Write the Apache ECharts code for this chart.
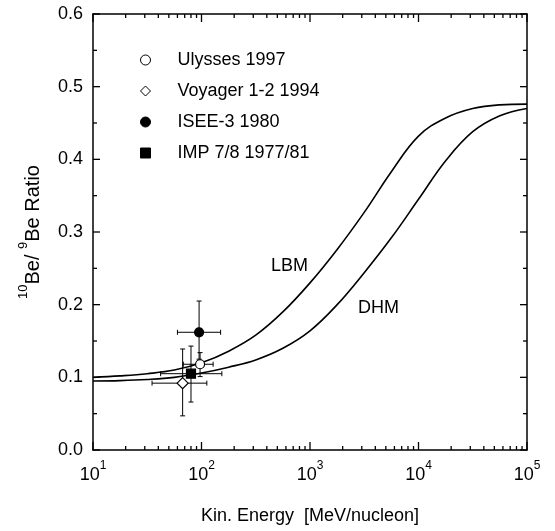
<!DOCTYPE html>
<html>
<head>
<meta charset="utf-8">
<script src="https://cdn.jsdelivr.net/npm/echarts@6/dist/echarts.min.js"></script>
<style>html,body{margin:0;padding:0;background:#fff}#c{width:555px;height:531px}</style>
</head>
<body>
<div id="c"></div>
<script>
// ---- data ----
const energyGrid = [10, 17.8, 31.6, 56.2, 100, 178, 316, 562, 1000, 1780, 3160, 5620, 10000, 17800, 31600, 56200, 100000];
const lbmRatio = [0.100, 0.102, 0.105, 0.110, 0.120, 0.136, 0.158, 0.190, 0.230, 0.276, 0.327, 0.383, 0.432, 0.457, 0.470, 0.475, 0.476];
const dhmRatio = [0.095, 0.0955, 0.097, 0.100, 0.106, 0.114, 0.124, 0.140, 0.164, 0.200, 0.244, 0.292, 0.345, 0.398, 0.438, 0.460, 0.470];

const seriesNames = ['Ulysses 1997', 'Voyager 1-2 1994', 'ISEE-3 1980', 'IMP 7/8 1977/81'];
const pointEnergy = [97, 67, 95, 80];
const pointRatio = [0.118, 0.092, 0.162, 0.105];
const energyLow = [68, 35, 60, 42];
const energyHigh = [128, 112, 150, 154];
const ratioLow = [0.101, 0.047, 0.125, 0.066];
const ratioHigh = [0.134, 0.139, 0.205, 0.143];

const xTickExponents = [1, 2, 3, 4, 5];
const majorEnergy = [10, 100, 1000, 10000, 100000];
const minorEnergy = [20,30,40,50,60,70,80,90,200,300,400,500,600,700,800,900,2000,3000,4000,5000,6000,7000,8000,9000,20000,30000,40000,50000,60000,70000,80000,90000];
const yTicks = ['0.0', '0.1', '0.2', '0.3', '0.4', '0.5', '0.6'];
const yMajor = [0, 0.1, 0.2, 0.3, 0.4, 0.5, 0.6];
const yMinor = [0.05, 0.15, 0.25, 0.35, 0.45, 0.55];

// ---- chart ----
const chart = echarts.init(document.getElementById('c'), null, {renderer: 'canvas'});
const FONT = 'Liberation Sans, Arial, sans-serif';
const symbols = [
  {symbol: 'circle', color: '#fff', border: '#000', size: 9},
  {symbol: 'diamond', color: '#fff', border: '#000', size: 11},
  {symbol: 'circle', color: '#000', border: '#000', size: 9},
  {symbol: 'rect', color: '#000', border: '#000', size: 9}
];

const errData = pointEnergy.map((e, i) => [e, pointRatio[i], energyLow[i], energyHigh[i], ratioLow[i], ratioHigh[i]]);

function errRender(params, api) {
  const x = api.value(0), y = api.value(1);
  const c = api.coord([x, y]);
  const l = api.coord([api.value(2), y]);
  const r = api.coord([api.value(3), y]);
  const b = api.coord([x, api.value(4)]);
  const t = api.coord([x, api.value(5)]);
  const cap = 2.5;
  const st = {stroke: '#000', lineWidth: 1};
  const line = (x1, y1, x2, y2) => ({type: 'line', shape: {x1, y1, x2, y2}, style: st});
  return {type: 'group', children: [
    line(l[0], c[1], r[0], c[1]),
    line(l[0], c[1] - cap, l[0], c[1] + cap),
    line(r[0], c[1] - cap, r[0], c[1] + cap),
    line(c[0], b[1], c[0], t[1]),
    line(c[0] - cap, b[1], c[0] + cap, b[1]),
    line(c[0] - cap, t[1], c[0] + cap, t[1])
  ]};
}

// one item that draws all frame ticks (inside) through the axis scales
function tickRender(params, api) {
  const st = {stroke: '#000', lineWidth: 1.3};
  const kids = [];
  const addX = (v, len) => {
    const b = api.coord([v, 0]);
    const t = api.coord([v, 0.6]);
    kids.push({type: 'line', shape: {x1: b[0], y1: b[1], x2: b[0], y2: b[1] - len}, style: st});
    kids.push({type: 'line', shape: {x1: t[0], y1: t[1], x2: t[0], y2: t[1] + len}, style: st});
  };
  const addY = (v, len) => {
    const l = api.coord([10, v]);
    const r = api.coord([100000, v]);
    kids.push({type: 'line', shape: {x1: l[0], y1: l[1], x2: l[0] + len, y2: l[1]}, style: st});
    kids.push({type: 'line', shape: {x1: r[0], y1: r[1], x2: r[0] - len, y2: r[1]}, style: st});
  };
  majorEnergy.forEach(v => addX(v, 8));
  minorEnergy.forEach(v => addX(v, 4));
  yMajor.forEach(v => addY(v, 7));
  yMinor.forEach(v => addY(v, 4));
  return {type: 'group', children: kids};
}

const xLabelFmt = v => {
  const e = Math.round(Math.log10(v));
  return xTickExponents.includes(e) ? '{b|10}{s|' + e + '}' : '';
};

const supRich = {
  b: {fontFamily: FONT, fontSize: 18, color: '#000', lineHeight: 24, verticalAlign: 'bottom'},
  s: {fontFamily: FONT, fontSize: 12, color: '#000', lineHeight: 12, verticalAlign: 'top'}
};

const option = {
  animation: false,
  backgroundColor: '#fff',
  textStyle: {fontFamily: FONT},
  grid: {left: 93, right: 28, top: 14, bottom: 81, containLabel: false},
  legend: {
    orient: 'vertical', left: 135, top: 46,
    itemWidth: 10, itemHeight: 10, itemGap: 13,
    textStyle: {fontFamily: FONT, fontSize: 18, color: '#000', padding: [0, 0, 0, 22]},
    data: seriesNames.map((n, i) => ({name: n, itemStyle: {color: symbols[i].color, borderColor: symbols[i].border, borderWidth: 1}}))
  },
  xAxis: [{
    type: 'log', logBase: 10, min: 10, max: 100000,
    name: 'Kin. Energy  [MeV/nucleon]', nameLocation: 'middle', nameGap: 57,
    nameTextStyle: {fontFamily: FONT, fontSize: 18, color: '#000'},
    axisLine: {show: true, onZero: false, lineStyle: {color: '#000', width: 1.5}},
    axisTick: {show: false},
    splitLine: {show: false},
    axisLabel: {margin: 10, formatter: xLabelFmt, rich: supRich}
  }, {
    type: 'log', logBase: 10, min: 10, max: 100000, position: 'top',
    axisLine: {show: true, onZero: false, lineStyle: {color: '#000', width: 1.5}},
    axisTick: {show: false}, axisLabel: {show: false}, splitLine: {show: false}
  }],
  yAxis: [{
    type: 'value', min: 0, max: 0.6, interval: 0.1,
    name: '{s|10}{b|Be/ }{s|9}{b|Be Ratio}', nameLocation: 'middle', nameGap: 50, nameRotate: 90,
    nameTextStyle: {fontFamily: FONT, fontSize: 20, color: '#000', rich: {
      b: {fontFamily: FONT, fontSize: 20, color: '#000', lineHeight: 26, verticalAlign: 'bottom'},
      s: {fontFamily: FONT, fontSize: 13, color: '#000', lineHeight: 13, verticalAlign: 'top'}
    }},
    axisLine: {show: true, onZero: false, lineStyle: {color: '#000', width: 1.5}},
    axisTick: {show: false}, minorTick: {show: false},
    splitLine: {show: false}, minorSplitLine: {show: false},
    axisLabel: {margin: 10, fontFamily: FONT, fontSize: 18, color: '#000', formatter: (v) => yTicks[Math.round(v * 10)]}
  }, {
    type: 'value', min: 0, max: 0.6, interval: 0.1, position: 'right',
    axisLine: {show: true, onZero: false, lineStyle: {color: '#000', width: 1.5}},
    axisTick: {show: false}, splitLine: {show: false}, axisLabel: {show: false}
  }],
  graphic: [
    {type: 'text', left: 271, top: 257, style: {text: 'LBM', fontFamily: FONT, fontSize: 18, fill: '#000'}},
    {type: 'text', left: 358, top: 299, style: {text: 'DHM', fontFamily: FONT, fontSize: 18, fill: '#000'}}
  ],
  series: [
    {type: 'line', name: 'LBM', data: energyGrid.map((e, i) => [e, lbmRatio[i]]), smooth: 0.4, symbol: 'none',
     lineStyle: {color: '#000', width: 1.6}, z: 2},
    {type: 'line', name: 'DHM', data: energyGrid.map((e, i) => [e, dhmRatio[i]]), smooth: 0.4, symbol: 'none',
     lineStyle: {color: '#000', width: 1.6}, z: 2},
    {type: 'custom', name: 'err', data: errData, renderItem: errRender, encode: {x: 0, y: 1}, silent: true, z: 3},
    {type: 'custom', name: 'frameTicks', data: [[100, 0.3]], encode: {x: 0, y: 1}, renderItem: tickRender, silent: true, z: 6}
  ].concat(seriesNames.map((n, i) => ({
    type: 'scatter', name: n, data: [[pointEnergy[i], pointRatio[i]]],
    symbol: symbols[i].symbol, symbolSize: symbols[i].size,
    itemStyle: {color: symbols[i].color, borderColor: symbols[i].border, borderWidth: 1.2, opacity: 1}, z: 5
  })))
};
chart.setOption(option);
</script>
</body>
</html>
